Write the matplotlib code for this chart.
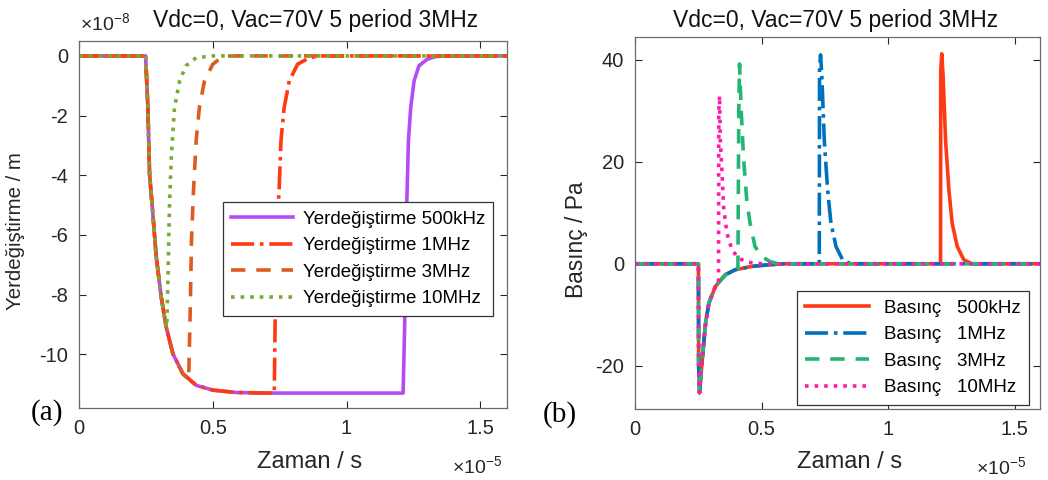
import matplotlib
matplotlib.use('Agg')
import matplotlib.pyplot as plt

plt.rcParams['font.family'] = ['Liberation Sans', 'DejaVu Sans']
plt.rcParams['mathtext.fontset'] = 'custom'
plt.rcParams['mathtext.rm'] = 'Liberation Sans'
plt.rcParams['axes.unicode_minus'] = False

# ---- data ----
# (a) displacement, time in 1e-5 s, displacement in 1e-8 m
t_drop = [0, 0.249, 0.2575, 0.2638, 0.274, 0.289, 0.3074, 0.326, 0.351, 0.388, 0.438, 0.5, 0.587, 0.7]
d_drop = [0, 0, -1.73, -3.96, -5.07, -6.75, -8.08, -9.09, -9.98, -10.65, -11.04, -11.2, -11.28, -11.3]

t_d500k = [1.2116, 1.219, 1.225, 1.2315, 1.240, 1.2526, 1.271, 1.302, 1.334, 1.37, 1.6]
d_d500k = [-11.3, -8.42, -5.07, -2.84, -1.73, -0.84, -0.33, -0.11, -0.02, 0, 0]

t_d1M = [0.730, 0.733, 0.737, 0.742, 0.748, 0.755, 0.767, 0.786, 0.817, 0.861, 0.9, 1.6]
d_d1M = [-11.3, -9.0, -7.0, -5.5, -4.5, -2.84, -1.73, -0.84, -0.28, -0.06, 0, 0]

t_d3M = [0.41, 0.416, 0.4205, 0.428, 0.438, 0.45, 0.469, 0.5, 0.537, 0.57, 1.6]
d_d3M = [-10.85, -8.42, -6.19, -4.52, -2.84, -1.73, -0.84, -0.28, -0.02, 0, 0]

t_d10M = [0.328, 0.333, 0.338, 0.345, 0.357, 0.376, 0.4, 0.438, 0.5, 1.6]
d_d10M = [-9.1, -7.3, -5.07, -3.4, -1.73, -0.84, -0.33, -0.06, 0, 0]

# (b) pressure, time in 1e-5 s, pressure in Pa
t_dip = [0, 0.2506, 0.2515, 0.2547, 0.260, 0.266, 0.2727, 0.279, 0.292, 0.318, 0.357, 0.396, 0.461, 0.526, 0.59]
p_dip = [0, 0, -20, -25.3, -22, -18.8, -14.85, -11.6, -7.68, -4.43, -2.15, -1.17, -0.52, -0.2, 0]

t_p500k = [1.207, 1.208, 1.212, 1.217, 1.227, 1.24, 1.253, 1.273, 1.299, 1.331, 1.6]
p_p500k = [0, 38, 41.2, 37, 24.2, 14.5, 7.95, 3.4, 0.78, 0, 0]

t_p1M = [0.728, 0.729, 0.733, 0.738, 0.748, 0.761, 0.774, 0.794, 0.82, 0.852, 1.6]
p_p1M = [0, 38, 41, 37, 24, 14.5, 8, 3.4, 0.8, 0, 0]

t_p3M = [0.4066, 0.41, 0.413, 0.419, 0.4285, 0.4415, 0.4546, 0.474, 0.5, 0.533, 0.565, 1.6]
p_p3M = [-1.0, 30, 39.2, 30.7, 21.0, 12.5, 7.95, 3.4, 1.43, 0.45, 0, 0]

t_p10M = [0.33, 0.331, 0.334, 0.337, 0.344, 0.35, 0.363, 0.383, 0.409, 0.448, 0.5, 1.6]
p_p10M = [-3.9, 30, 33.0, 24.2, 17.7, 11.2, 6.0, 2.74, 1.1, 0.26, 0, 0]

x_ticks = [0, 0.5, 1, 1.5]
x_ticklabels = ['0', '0.5', '1', '1.5']
d_ticks = [0, -2, -4, -6, -8, -10]
p_ticks = [-20, 0, 20, 40]

# build each series from the shared part and its own tail
def join(t0, y0, t1, y1):
    tt = [t for t in t0 if t < t1[0]] + t1
    yy = [y for t, y in zip(t0, y0) if t < t1[0]] + y1
    return tt, yy

fig = plt.figure(figsize=(10.48, 4.8), dpi=100)
W, H = 1048., 480.

# ---------- (a) ----------
ax1 = fig.add_axes([79/W, 1-408/H, 428/W, 367/H])
td500, dd500 = join(t_drop + [1.2116], d_drop + [-11.3], t_d500k, d_d500k)
ax1.plot(td500, dd500, '-', color='#B44CF5', lw=2.6, label='Yerdeğiştirme 500kHz')
td1, dd1 = join(t_drop, d_drop, t_d1M, d_d1M)
ax1.plot(td1, dd1, '-.', color='#FF3A12', lw=2.6, label='Yerdeğiştirme 1MHz')
td3, dd3 = join(t_drop, d_drop, t_d3M, d_d3M)
ax1.plot(td3, dd3, '--', color='#DE5A1E', lw=2.6, dashes=(4, 3), label='Yerdeğiştirme 3MHz')
td10, dd10 = join(t_drop, d_drop, t_d10M, d_d10M)
ax1.plot(td10, dd10, ':', color='#77AC30', lw=2.6, label='Yerdeğiştirme 10MHz')
ax1.set_xlim(0, 1.6)
ax1.set_ylim(-11.8, 0.5)
ax1.set_xticks(x_ticks)
ax1.set_xticklabels(x_ticklabels)
ax1.set_yticks(d_ticks)
ax1.set_yticklabels([str(v) for v in d_ticks])
leg1 = ax1.legend(loc='upper left', bbox_to_anchor=(223/W, 1-202/H), bbox_transform=fig.transFigure,
                  borderaxespad=0, fancybox=False, edgecolor='#333333', fontsize=13.5,
                  handlelength=3.3, handletextpad=0.5, labelspacing=0.5, borderpad=0.45,
                  framealpha=1)
leg1.get_frame().set_linewidth(0.9)

# ---------- (b) ----------
ax2 = fig.add_axes([635/W, 1-409/H, 405/W, 372/H])
tp, pp = join(t_dip, p_dip, t_p500k, p_p500k)
ax2.plot(tp, pp, '-', color='#FF3A12', lw=2.6, label='Basınç   500kHz')
tp, pp = join(t_dip, p_dip, t_p1M, p_p1M)
ax2.plot(tp, pp, '-.', color='#0072BD', lw=2.6, label='Basınç   1MHz')
tp, pp = join(t_dip, p_dip, t_p3M, p_p3M)
ax2.plot(tp, pp, '--', color='#22B573', lw=2.6, dashes=(4, 3), label='Basınç   3MHz')
tp, pp = join(t_dip, p_dip, t_p10M, p_p10M)
ax2.plot(tp, pp, ':', color='#FF1AAE', lw=2.6, label='Basınç   10MHz')
ax2.set_xlim(0, 1.6)
ax2.set_ylim(-28.5, 44.5)
ax2.set_xticks(x_ticks)
ax2.set_xticklabels(x_ticklabels)
ax2.set_yticks(p_ticks)
leg2 = ax2.legend(loc='upper left', bbox_to_anchor=(797/W, 1-291/H), bbox_transform=fig.transFigure,
                  borderaxespad=0, fancybox=False, edgecolor='#333333', fontsize=13.5,
                  handlelength=3.4, handletextpad=0.8, labelspacing=0.5, borderpad=0.45,
                  framealpha=1)
leg2.get_frame().set_linewidth(0.9)

for ax in (ax1, ax2):
    ax.tick_params(direction='in', top=True, right=True, labelsize=14.5, colors='#262626',
                   length=5, width=0.8, pad=8)
    for s in ax.spines.values():
        s.set_color('#6b6b6b')
        s.set_linewidth(0.9)

# titles, labels, multipliers
fig.text(316/W, 1-21/H, 'Vdc=0, Vac=70V 5 period 3MHz', ha='center', va='center', fontsize=16.5, color='#111111')
fig.text(836/W, 1-20/H, 'Vdc=0, Vac=70V 5 period 3MHz', ha='center', va='center', fontsize=16.5, color='#111111')
fig.text(80/W, 1-24/H, r'$\times10^{-8}$', ha='left', va='center', fontsize=14, color='#262626')
fig.text(452/W, 1-467/H, r'$\times10^{-5}$', ha='left', va='center', fontsize=14, color='#262626')
fig.text(976/W, 1-468/H, r'$\times10^{-5}$', ha='left', va='center', fontsize=14, color='#262626')
fig.text(310/W, 1-462/H, 'Zaman / s', ha='center', va='center', fontsize=17, color='#262626')
fig.text(850/W, 1-462/H, 'Zaman / s', ha='center', va='center', fontsize=17, color='#262626')
fig.text(16/W, 1-231/H, 'Yerdeğiştirme / m', ha='center', va='center', rotation=90, fontsize=14.7, color='#262626')
fig.text(577/W, 1-240/H, 'Basınç / Pa', ha='center', va='center', rotation=90, fontsize=16.4, color='#262626')
fig.text(47/W, 1-413/H, '(a)', ha='center', va='center', fontsize=21, family='Liberation Serif')
fig.text(560/W, 1-415/H, '(b)', ha='center', va='center', fontsize=21, family='Liberation Serif')

fig.savefig('out.png', dpi=100)
